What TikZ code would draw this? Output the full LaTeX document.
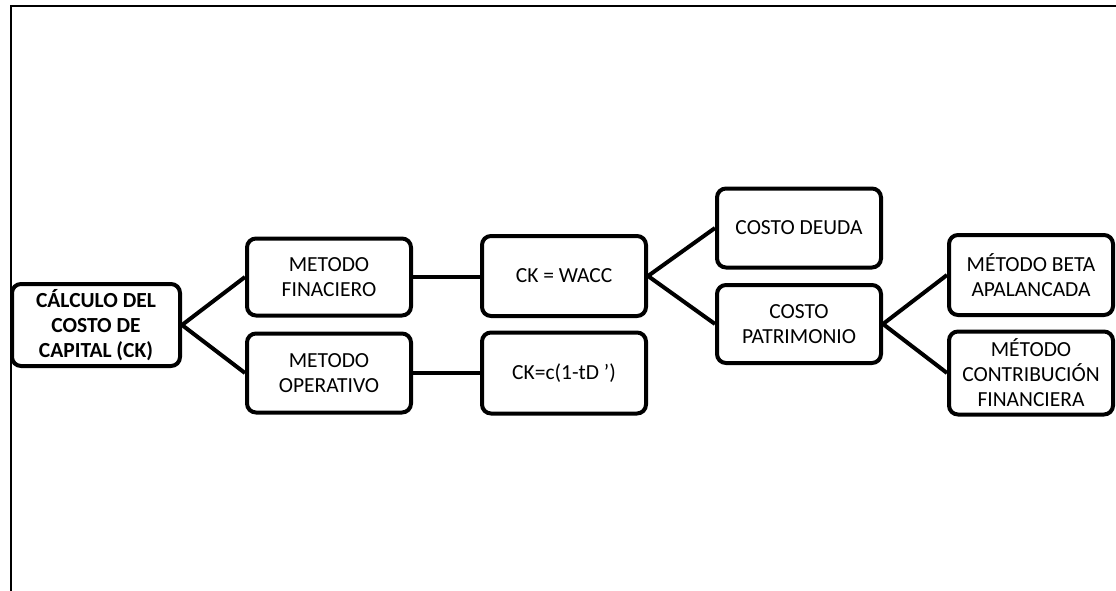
\documentclass[tikz,border=0pt]{standalone}
\usepackage{fontspec}
\setmainfont{Carlito}
\begin{document}
\begin{tikzpicture}[x=1pt,y=-1pt,
  box/.style={draw=black, line width=4pt, rounded corners=9pt, align=center,
    inner sep=2pt, font=\fontsize{21.5}{25}\selectfont, fill=white},
  conn/.style={draw=black, line width=4pt},
  frame/.style={draw=black, line width=2.4pt}]
\useasboundingbox (0,0) rectangle (1116,591);
% frame
\coordinate (fbl) at (11,591);
\coordinate (ftl) at (11,6);
\coordinate (ftr) at (1116,6);
\draw[frame] (fbl) -- (ftl) -- (ftr);
% nodes
\node[box, minimum width=168pt, minimum height=82pt, font=\fontsize{21.5}{25}\selectfont\bfseries] (root) at (96,325) {CÁLCULO DEL\\COSTO DE\\CAPITAL (CK)};
\node[box, minimum width=164pt, minimum height=77pt] (mf) at (329,277) {METODO\\FINACIERO};
\node[box, minimum width=164pt, minimum height=79pt] (mo) at (329,373) {METODO\\OPERATIVO};
\node[box, minimum width=164pt, minimum height=80pt] (wacc) at (564,276) {CK = WACC};
\node[box, minimum width=164pt, minimum height=81pt] (ckc) at (564,373) {CK=c(1-tD ')};
\node[box, minimum width=164pt, minimum height=79pt] (cd) at (799,228) {COSTO DEUDA};
\node[box, minimum width=164pt, minimum height=78pt] (cp) at (799,324) {COSTO\\PATRIMONIO};
\node[box, minimum width=164pt, minimum height=80pt] (beta) at (1031,275) {MÉTODO BETA\\APALANCADA};
\node[box, minimum width=164pt, minimum height=83pt] (contrib) at (1031,373) {MÉTODO\\CONTRIBUCIÓN\\FINANCIERA};
% connectors
\draw[conn] (root.east) -- (mf.west);
\draw[conn] (root.east) -- (mo.west);
\draw[conn] (mf.east) -- (mf.east -| wacc.west);
\draw[conn] (mo.east) -- (mo.east -| ckc.west);
\draw[conn] (wacc.east) -- (cd.west);
\draw[conn] (wacc.east) -- (cp.west);
\draw[conn] (cp.east) -- (beta.west);
\draw[conn] (cp.east) -- (contrib.west);
\end{tikzpicture}
\end{document}
